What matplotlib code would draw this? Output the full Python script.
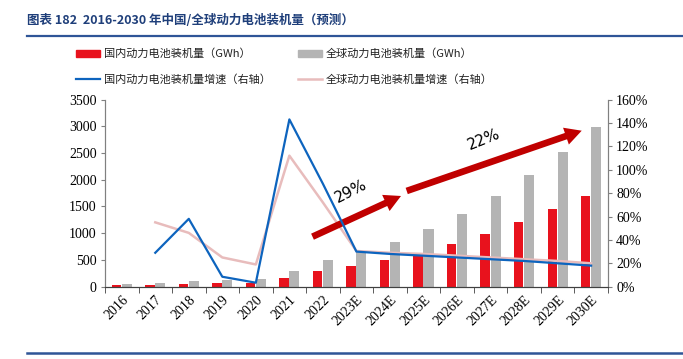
import matplotlib
matplotlib.use("Agg")
import matplotlib.pyplot as plt
import numpy as np

plt.rcParams['font.family'] = ['Noto Sans CJK SC', 'DejaVu Sans']

years = ['2016', '2017', '2018', '2019', '2020', '2021', '2022', '2023E',
         '2024E', '2025E', '2026E', '2027E', '2028E', '2029E', '2030E']
china_gwh = [30, 36, 57, 62, 64, 160, 300, 390, 498, 623, 797, 990, 1202, 1445, 1700]
global_gwh = [55, 75, 106, 125, 145, 300, 505, 660, 841, 1078, 1364, 1695, 2081, 2517, 2990]
china_growth = [np.nan, 0.29, 0.58, 0.085, 0.034, 1.43, 0.88, 0.30,
                0.28, 0.265, 0.25, 0.235, 0.22, 0.20, 0.18]
global_growth = [np.nan, 0.55, 0.46, 0.25, 0.19, 1.12, 0.72, 0.305,
                 0.29, 0.28, 0.265, 0.25, 0.235, 0.22, 0.20]

legend_labels = ['国内动力电池装机量（GWh）', '全球动力电池装机量（GWh）',
                 '国内动力电池装机量增速（右轴）', '全球动力电池装机量增速（右轴）']
title = '图表 182  2016-2030 年中国/全球动力电池装机量（预测）'

red = '#E8121D'
gray = '#B4B4B4'
blue = '#0D64BE'
pink = '#E8BCBC'
dark_red = '#C00000'

fig = plt.figure(figsize=(6.83, 3.59), dpi=100)
ax = fig.add_axes([0.1537, 0.2014, 0.7363, 0.5214])
ax2 = ax.twinx()

x = np.arange(len(years))
ax.bar(x - 0.16, china_gwh, width=0.28, color=red, zorder=2)
ax.bar(x + 0.15, global_gwh, width=0.30, color=gray, zorder=2)

ax2.plot(x, global_growth, color=pink, lw=1.8, zorder=3)
ax2.plot(x, china_growth, color=blue, lw=1.6, zorder=5)

ax.set_xlim(-0.5, len(years) - 0.5)
ax.set_ylim(0, 3500)
ax.set_yticks(np.arange(0, 3501, 500))
ax2.set_ylim(0, 1.6)
ax2.set_yticks(np.arange(0, 1.61, 0.2))
ax2.set_yticklabels([f'{int(round(v*100))}%' for v in np.arange(0, 1.61, 0.2)])

serif = 'Liberation Serif'
for lab in ax.get_yticklabels():
    lab.set_fontfamily(serif); lab.set_fontsize(10)
for lab in ax2.get_yticklabels():
    lab.set_fontfamily(serif); lab.set_fontsize(10)

ax.set_xticks(x)
ax.set_xticklabels(years, rotation=45, ha='right', va='top', rotation_mode='anchor',
                   fontfamily=serif, fontsize=10)
ax.set_xticks(np.arange(-0.5, len(years), 1.0), minor=True)
ax.tick_params(axis='x', which='major', length=0, pad=5)
ax.tick_params(axis='x', which='minor', length=4, color='#404040', direction='out')
ax.tick_params(axis='y', length=3, color='#808080', pad=3)
ax2.tick_params(axis='y', length=3, color='#808080', pad=3)

for a in (ax, ax2):
    a.spines['top'].set_visible(False)
    a.spines['left'].set_color('#808080')
    a.spines['right'].set_color('#808080')
    a.spines['bottom'].set_color('#404040')

# Arrows (data coords of the primary axis)
arrow_kw = dict(arrowstyle='simple,head_width=1.6,head_length=1.5,tail_width=0.6',
                color=dark_red, lw=0, mutation_scale=8, shrinkA=0, shrinkB=0)
ax2.annotate('', xy=(8.33, 1696), xytext=(5.69, 935), xycoords=ax.transData,
             textcoords=ax.transData, arrowprops=arrow_kw, zorder=4)
ax2.annotate('', xy=(13.72, 2917), xytext=(8.5, 1790), xycoords=ax.transData,
             textcoords=ax.transData, arrowprops=arrow_kw, zorder=4)
ax2.text(6.85, 1790, '29%', transform=ax.transData, rotation=27, fontsize=11,
         fontfamily='DejaVu Sans', ha='center', va='center', zorder=6)
ax2.text(10.8, 2760, '22%', transform=ax.transData, rotation=22, fontsize=11,
         fontfamily='DejaVu Sans', ha='center', va='center', zorder=6)

# Title and rules
fig.text(27/683, 1 - 20/359, title, fontsize=9, fontweight='bold', color='#1F3F7A',
         ha='left', va='center')
fig.add_artist(plt.Line2D([27/683, 1], [1 - 36/359, 1 - 36/359], color='#2F5597', lw=1.6))
fig.add_artist(plt.Line2D([27/683, 1], [1 - 352.5/359, 1 - 352.5/359], color='#2F5597', lw=1.8))

# Legend
handles = [plt.Rectangle((0, 0), 1, 1, color=red), plt.Rectangle((0, 0), 1, 1, color=gray),
           plt.Line2D([], [], color=blue, lw=1.6), plt.Line2D([], [], color=pink, lw=1.8)]
pos = [(76, 54), (298, 54), (76, 79), (298, 79)]
for h, lab, (px, py) in zip(handles, legend_labels, pos):
    yf = 1 - py/359
    if isinstance(h, plt.Rectangle):
        fig.add_artist(plt.Rectangle((px/683, yf - 3.5/359), 24/683, 7/359,
                                     color=h.get_facecolor(), transform=fig.transFigure))
    else:
        fig.add_artist(plt.Line2D([px/683, (px+24)/683], [yf, yf], color=h.get_color(),
                                  lw=h.get_linewidth()))
    fig.text((px + 28)/683, yf, lab, fontsize=8, ha='left', va='center', color='#222222')

fig.savefig('out.png', dpi=100)
